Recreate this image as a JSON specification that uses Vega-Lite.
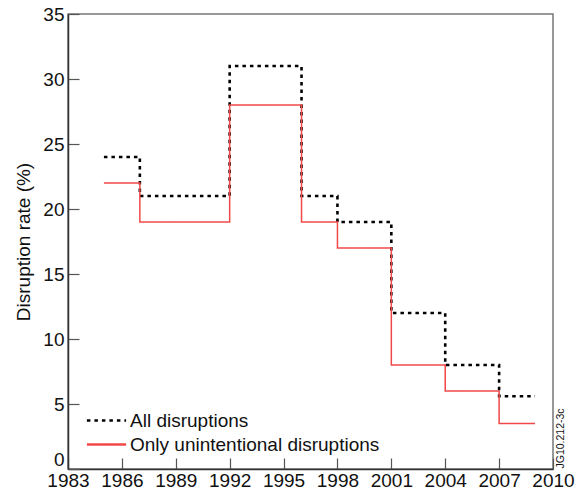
{
  "$schema": "https://vega.github.io/schema/vega-lite/v6.json",
  "width": 485,
  "height": 455,
  "autosize": {"type": "none"},
  "padding": {"left": 68, "top": 14, "right": 25, "bottom": 21},
  "background": "white",
  "config": {
    "font": "Liberation Sans",
    "view": {"stroke": "#777", "strokeWidth": 1.5},
    "axis": {"grid": false, "labelFont": "Liberation Sans", "titleFont": "Liberation Sans", "labelColor": "#111", "titleColor": "#111", "labelFontSize": 19, "titleFontSize": 19, "titleFontWeight": "normal", "domainColor": "#333", "tickColor": "#555", "domainWidth": 1.5, "tickWidth": 1.2}
  },
  "data": {
    "values": [
      {"year": 1985, "rate": 24, "series": "All disruptions"},
      {"year": 1987, "rate": 21, "series": "All disruptions"},
      {"year": 1992, "rate": 31, "series": "All disruptions"},
      {"year": 1996, "rate": 21, "series": "All disruptions"},
      {"year": 1998, "rate": 19, "series": "All disruptions"},
      {"year": 2001, "rate": 12, "series": "All disruptions"},
      {"year": 2004, "rate": 8, "series": "All disruptions"},
      {"year": 2007, "rate": 5.6, "series": "All disruptions"},
      {"year": 2009, "rate": 5.6, "series": "All disruptions"},
      {"year": 1985, "rate": 22, "series": "Only unintentional disruptions"},
      {"year": 1987, "rate": 19, "series": "Only unintentional disruptions"},
      {"year": 1992, "rate": 28, "series": "Only unintentional disruptions"},
      {"year": 1996, "rate": 19, "series": "Only unintentional disruptions"},
      {"year": 1998, "rate": 17, "series": "Only unintentional disruptions"},
      {"year": 2001, "rate": 8, "series": "Only unintentional disruptions"},
      {"year": 2004, "rate": 6, "series": "Only unintentional disruptions"},
      {"year": 2007, "rate": 3.5, "series": "Only unintentional disruptions"},
      {"year": 2009, "rate": 3.5, "series": "Only unintentional disruptions"}
    ]
  },
  "layer": [
    {
      "mark": {"type": "line", "interpolate": "step-after"},
      "encoding": {
        "x": {"field": "year", "type": "quantitative", "scale": {"domain": [1983, 2010], "nice": false, "zero": false},
              "axis": {"title": null, "values": [1983,1986,1989,1992,1995,1998,2001,2004,2007,2010], "format": "d", "tickSize": -11, "labelPadding": 13, "labelFlush": false}},
        "y": {"field": "rate", "type": "quantitative", "scale": {"domain": [0, 35], "nice": false},
              "axis": {"title": "Disruption rate (%)", "values": [0,5,10,15,20,25,30,35], "tickSize": -11, "labelPadding": 15, "titlePadding": 9, "labelFlush": false,
                       "labelBaseline": {"condition": {"test": "datum.value === 0", "value": "bottom"}, "value": "middle"}}},
        "color": {"field": "series", "type": "nominal", "sort": ["All disruptions", "Only unintentional disruptions"],
                  "scale": {"domain": ["All disruptions", "Only unintentional disruptions"], "range": ["#000000", "#f04848"]},
                  "legend": {"title": null, "orient": "none", "legendX": 25, "legendY": 393, "padding": 0, "symbolType": "M-1.6,0H1.6", "symbolSize": 600, "symbolStrokeWidth": 2.5, "labelFontSize": 19, "labelFont": "Liberation Sans", "labelColor": "#111", "labelLimit": 400, "rowPadding": 0, "labelOffset": 10}},
        "strokeDash": {"field": "series", "type": "nominal", "sort": ["All disruptions", "Only unintentional disruptions"],
                  "scale": {"domain": ["All disruptions", "Only unintentional disruptions"], "range": [[3.5, 4], [1, 0]]},
                  "legend": {"title": null, "orient": "none", "legendX": 25, "legendY": 393, "padding": 0, "symbolType": "M-1.6,0H1.6", "symbolSize": 600, "labelFontSize": 19, "labelFont": "Liberation Sans", "labelColor": "#111", "labelLimit": 400, "rowPadding": 0, "labelOffset": 10}},
        "strokeWidth": {"condition": {"test": "datum.series === 'All disruptions'", "value": 2.6}, "value": 1.5}
      }
    },
    {
      "mark": {"type": "rule", "opacity": 0},
      "encoding": {
        "y": {"field": "rate", "type": "quantitative", "axis": {"orient": "right", "title": "JG10.212-3c", "titleFontSize": 10.5, "titleAngle": 270, "titleY": 454, "titleAlign": "left", "titleBaseline": "middle", "titlePadding": 7, "labels": false, "ticks": false, "domain": false}}
      }
    }
  ],
  "resolve": {"axis": {"y": "independent"}}
}
